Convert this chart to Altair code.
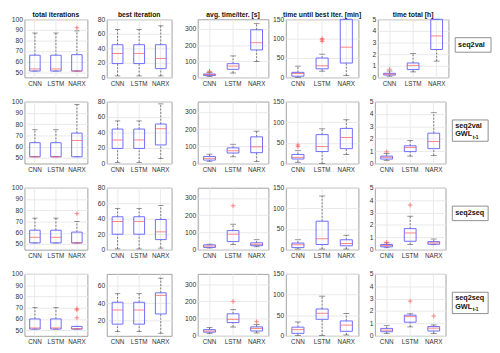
import altair as alt
import pandas as pd

models = ["CNN", "LSTM", "NARX"]
metric_titles = ["total iterations", "best iteration", "avg. time/iter. [s]",
                 "time until best iter. [min]", "time total [h]"]
row_main = ["seq2val", "seq2val", "seq2seq", "seq2seq"]
row_gwl = [False, True, False, True]

# [lower whisker, q1, median, q3, upper whisker] for CNN, LSTM, NARX, per metric
seq2val_stats = [
    [[51, 51, 53, 66, 87], [51, 51, 53, 66, 87], [51, 51, 51, 66.5, 89]],
    [[2, 19, 33, 45, 66], [2, 19, 33, 45, 66], [2, 12, 26, 45, 71]],
    [[5, 12, 17, 21, 30], [27, 50, 70, 85, 133], [98, 170, 215, 295, 333]],
    [[0, 3, 10, 13, 29], [16, 22, 30, 50, 60], [5, 37, 78, 170, 220]],
    [[0.1, 0.2, 0.28, 0.35, 0.55], [0.47, 0.67, 1.03, 1.24, 2.05], [1.4, 2.4, 3.57, 5.6, 7.5]],
]
seq2val_outliers = [[[], [], [92]], [[], [], []], [[34, 38], [], []],
                    [[], [93, 97, 100], []], [[0.7], [], []]]

seq2val_gwl_stats = [
    [[51, 51, 51, 63.5, 75], [51, 51, 51, 63.5, 75], [51, 51, 65.5, 72, 97.5]],
    [[1.5, 19.5, 30.5, 44.5, 55], [1.5, 19.5, 30.5, 44.5, 55], [6.5, 24, 45, 51, 77]],
    [[13, 20, 30, 41, 54], [39, 61, 74, 91, 112], [11, 63, 97, 155, 188]],
    [[3, 11, 15, 22, 31], [0, 29, 41, 70, 84], [22, 36, 63, 85, 106]],
    [[0.26, 0.36, 0.5, 0.6, 0.8], [0.6, 0.96, 1.3, 1.43, 1.85], [0.65, 1.2, 1.77, 2.45, 4.1]],
]
seq2val_gwl_outliers = [[[], [], []], [[], [], []], [[], [], []],
                        [[41, 45], [], []], [[0.94], [], []]]

seq2seq_stats = [
    [[51, 51, 56, 62.3, 73], [51, 51, 56, 62.3, 73], [51, 51, 51, 60.6, 70]],
    [[1, 20, 36.5, 42.5, 53], [1, 20, 36.5, 42.5, 53], [2, 13, 23, 39, 57]],
    [[10, 13, 21, 28, 32], [30, 47, 90, 111, 148], [17, 23, 31, 40, 58]],
    [[1.5, 5, 12, 16, 24], [1.5, 12.5, 26.5, 69, 130], [1.5, 9.4, 15, 24, 35]],
    [[0.16, 0.23, 0.34, 0.42, 0.55], [0.42, 0.68, 1.35, 1.7, 2.7], [0.4, 0.44, 0.55, 0.65, 0.86]],
]
seq2seq_outliers = [[[], [], [77]], [[], [], []], [[], [255], []],
                    [[], [], []], [[0.6], [3.6], []]]

seq2seq_gwl_stats = [
    [[51, 51, 52, 60, 70], [51, 51, 52, 60, 70], [51, 51, 51.4, 53.4, 53.4]],
    [[7, 15.6, 32, 41, 51], [7, 15.6, 32, 41, 51], [5, 27.4, 49, 52, 69]],
    [[13, 21, 28, 36, 49], [51, 77, 96, 128, 152], [17, 28, 43, 52, 66]],
    [[1, 6, 15, 21, 33.6], [1, 40, 54.6, 65, 96], [2, 11, 26, 36, 54]],
    [[0.2, 0.33, 0.46, 0.6, 0.82], [0.72, 1.1, 1.55, 1.67, 1.78], [0.2, 0.39, 0.62, 0.75, 0.88]],
]
seq2seq_gwl_outliers = [[[], [], [61, 68, 69]], [[], [], []], [[], [200], [82]],
                        [[], [], []], [[], [2.8], [1.6]]]

all_stats = [seq2val_stats, seq2val_gwl_stats, seq2seq_stats, seq2seq_gwl_stats]
all_outliers = [seq2val_outliers, seq2val_gwl_outliers, seq2seq_outliers, seq2seq_gwl_outliers]

y_domains = [[45, 100], [0, 80], [0, 360], [0, 150], [0, 5]]
y_domain_col2_last = [2, 74]
y_ticks = [[50, 60, 70, 80, 90, 100], [0, 20, 40, 60, 80], [0, 100, 200, 300],
           [0, 50, 100, 150], [0, 1, 2, 3, 4, 5]]
y_ticks_col2_last = [20, 40, 60]

widths = [65, 67, 73, 75, 73]
col_gaps = [8, 11, 2, 9]
row_heights = [60, 64, 64, 64]

BLUE = "#6a6aff"
RED = "#ff5050"
GRID = "#e8e8e8"
CROSS = "M-1,0L1,0M0,-1L0,1"
FONT = "Liberation Sans"


def panel(stats, outs, dom, ticks, w, h, title, label_idx=None):
    df = pd.DataFrame({
        "model": models,
        "lo": [s[0] for s in stats], "q1": [s[1] for s in stats],
        "med": [s[2] for s in stats], "q3": [s[3] for s in stats],
        "hi": [s[4] for s in stats],
    })
    odf = pd.DataFrame([(m, v) for m, vs in zip(models, outs) for v in vs],
                       columns=["model", "v"])
    band = w / 3.0
    xenc = alt.X("model:N", sort=models,
                 scale=alt.Scale(type="band", domain=models, paddingInner=0, paddingOuter=0),
                 axis=alt.Axis(title=None, labelAngle=0, labelFontSize=6.5, labelColor="#333",
                               ticks=False, domain=False, labelPadding=3, grid=True,
                               gridColor=GRID, bandPosition=0.5, labelFont=FONT))
    ysc = alt.Scale(domain=dom, nice=False, zero=False, clamp=True)
    yax = alt.Axis(title=None, values=ticks, labelFontSize=7, labelColor="#333", ticks=False,
                   domain=False, grid=True, gridColor=GRID, labelPadding=2, labelFont=FONT)

    def Y(f):
        return alt.Y(f + ":Q", scale=ysc, axis=yax)

    base = alt.Chart(df)
    layers = [
        base.mark_rule(color="#555", strokeDash=[2, 1.5], strokeWidth=0.8)
            .encode(x=xenc, y=Y("q3"), y2="hi:Q"),
        base.mark_rule(color="#555", strokeDash=[2, 1.5], strokeWidth=0.8)
            .encode(x=xenc, y=Y("lo"), y2="q1:Q"),
        base.mark_tick(color="#444", size=band * 0.25, thickness=0.8)
            .encode(x=xenc, y=Y("hi")),
        base.mark_tick(color="#444", size=band * 0.25, thickness=0.8)
            .encode(x=xenc, y=Y("lo")),
        base.mark_bar(width=alt.RelativeBandSize(0.5), fillOpacity=0, stroke=BLUE,
                      strokeWidth=1)
            .encode(x=xenc, y=Y("q1"), y2="q3:Q"),
        base.mark_tick(color=RED, size=band * 0.5, thickness=1)
            .encode(x=xenc, y=Y("med")),
    ]
    if len(odf):
        layers.append(
            alt.Chart(odf).mark_point(shape=CROSS, stroke=RED, strokeWidth=1, size=22,
                                      filled=False)
            .encode(x=xenc, y=Y("v")))
    if title:
        tdf = pd.DataFrame({"t": [title]})
        layers.append(alt.Chart(tdf).mark_text(baseline="bottom", align="center", fontSize=7,
                                               fontWeight="bold", font=FONT, color="#111")
                      .encode(x=alt.value(w / 2), y=alt.value(-1.5), text="t:N"))
    if label_idx is not None:
        two = row_gwl[label_idx]
        y0, y1 = (19, 41) if two else (19, 34)
        ldf = pd.DataFrame({"main": [row_main[label_idx]], "g": ["GWL"], "s": ["t-1"]})
        lb = alt.Chart(ldf)
        layers.append(lb.mark_rect(fill="white", stroke="#8c8c8c", strokeWidth=1)
                      .encode(x=alt.value(w + 7), x2=alt.value(w + 44),
                              y=alt.value(y0), y2=alt.value(y1)))
        layers.append(lb.mark_text(align="left", baseline="middle", fontSize=7.5,
                                   fontWeight="bold", font=FONT, color="#111")
                      .encode(x=alt.value(w + 10), y=alt.value(25 if two else 26.5),
                              text="main:N"))
        if two:
            layers.append(lb.mark_text(align="left", baseline="middle", fontSize=7.5,
                                       fontWeight="bold", font=FONT, color="#111")
                          .encode(x=alt.value(w + 10), y=alt.value(34), text="g:N"))
            layers.append(lb.mark_text(align="left", baseline="middle", fontSize=5,
                                       fontWeight="bold", font=FONT, color="#111")
                          .encode(x=alt.value(w + 28), y=alt.value(36.5), text="s:N"))
    return alt.layer(*layers).properties(width=w, height=h)


rows = []
for r in range(4):
    cells = []
    for c in range(5):
        dom = y_domains[c]
        tk = y_ticks[c]
        if r == 3 and c == 1:
            dom = y_domain_col2_last
            tk = y_ticks_col2_last
        cells.append(panel(all_stats[r][c], all_outliers[r][c], dom, tk, widths[c],
                           row_heights[r], metric_titles[c] if r == 0 else None,
                           label_idx=r if c == 4 else None))
    row = alt.hconcat(cells[3], cells[4], spacing=col_gaps[3])
    row = alt.hconcat(cells[2], row, spacing=col_gaps[2])
    row = alt.hconcat(cells[1], row, spacing=col_gaps[1])
    row = alt.hconcat(cells[0], row, spacing=col_gaps[0])
    rows.append(row)

chart = alt.vconcat(*rows, spacing=10).properties(
    padding={"left": 2, "top": -3, "right": 0, "bottom": 0}
).configure_view(stroke="#a0a0a0", strokeWidth=1)

chart.save("out.html", embed_options={"renderer": "svg", "actions": False})
